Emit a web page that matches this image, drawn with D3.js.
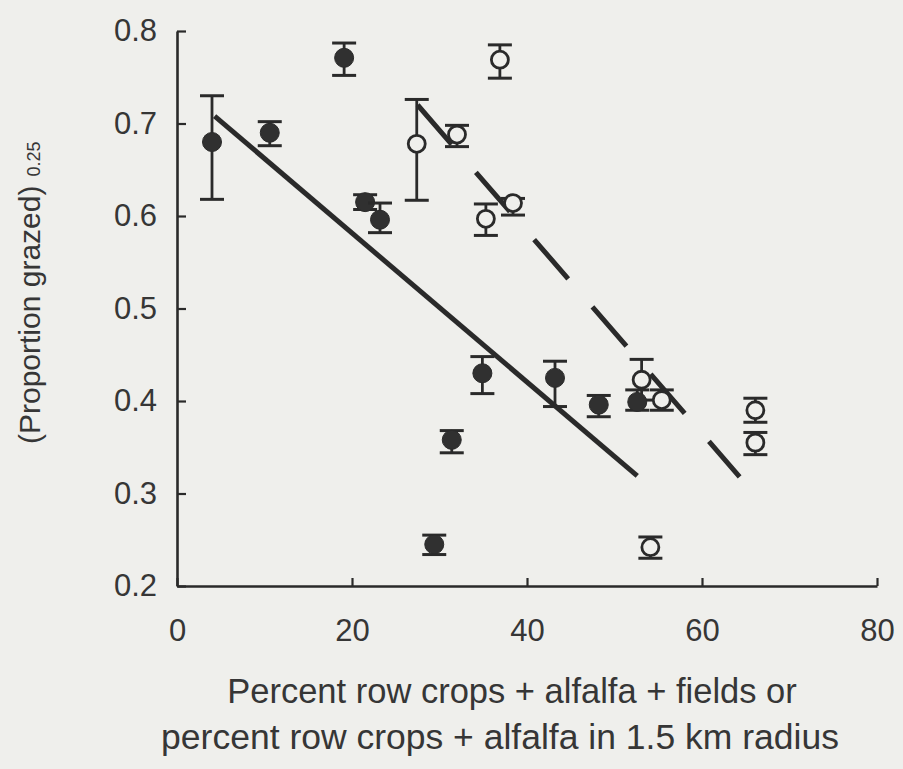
<!DOCTYPE html>
<html>
<head>
<meta charset="utf-8">
<script src="https://cdn.jsdelivr.net/npm/d3@7/dist/d3.min.js"></script>
<style>
  html, body { margin: 0; padding: 0; background: #efefec; }
  svg { display: block; }
</style>
</head>
<body>
<svg id="chart" width="903" height="769"></svg>
<script>
// Percent cover (x) vs. (proportion grazed)^0.25 (y), with error bars
const xTicks = [0, 20, 40, 60, 80];
const yTicks = [0.2, 0.3, 0.4, 0.5, 0.6, 0.7, 0.8];

// Filled circles: row crops + alfalfa + fields
const filledX  = [4.0, 10.6, 19.1, 21.5, 23.2, 29.4, 31.4, 34.9, 43.2, 48.2, 52.6];
const filledY  = [0.680, 0.690, 0.771, 0.615, 0.596, 0.245, 0.358, 0.430, 0.425, 0.396, 0.399];
const filledHi = [0.730, 0.702, 0.787, 0.623, 0.614, 0.255, 0.368, 0.448, 0.443, 0.406, 0.412];
const filledLo = [0.618, 0.676, 0.752, 0.607, 0.582, 0.234, 0.344, 0.408, 0.394, 0.383, 0.390];

// Open circles: row crops + alfalfa
const openX  = [27.4, 32.0, 36.9, 35.3, 38.4, 53.1, 55.4, 66.1, 66.1, 54.1];
const openY  = [0.678, 0.688, 0.769, 0.597, 0.614, 0.423, 0.401, 0.390, 0.355, 0.242];
const openHi = [0.726, 0.698, 0.785, 0.613, 0.619, 0.445, 0.412, 0.403, 0.366, 0.253];
const openLo = [0.617, 0.675, 0.749, 0.579, 0.601, 0.401, 0.390, 0.377, 0.342, 0.230];

// Fitted regression lines (end points)
const solidFitX  = [4.3, 52.6];
const solidFitY  = [0.708, 0.319];
const dashedFitX = [27.5, 64.3];
const dashedFitY = [0.720, 0.318];

const ink = "#2a2a2a";
const textInk = "#363636";
const bg = "#efefec";
const font = "'Liberation Sans', Arial, Helvetica, sans-serif";

const svg = d3.select("#chart");
svg.append("rect").attr("width", 903).attr("height", 769).attr("fill", bg);

const x = d3.scaleLinear().domain([0, 80]).range([177, 877]);
const y = d3.scaleLinear().domain([0.2, 0.8]).range([586, 31]);

// Axes with inward ticks
const xAxis = d3.axisBottom(x).tickValues(xTicks).tickSize(-8).tickSizeOuter(0)
  .tickPadding(33).tickFormat(d3.format("d"));
const yAxis = d3.axisLeft(y).tickValues(yTicks).tickSize(-9).tickSizeOuter(0)
  .tickPadding(20).tickFormat(d3.format(".1f"));

const gx = svg.append("g").attr("transform", `translate(0,${y(0.2)})`).call(xAxis);
const gy = svg.append("g").attr("transform", `translate(${x(0)},0)`).call(yAxis);

[gx, gy].forEach(g => {
  g.select(".domain").attr("stroke", ink).attr("stroke-width", 2.6);
  g.selectAll(".tick line").attr("stroke", ink).attr("stroke-width", 2.2);
  g.selectAll(".tick text").attr("fill", textInk)
    .style("font-family", font).style("font-size", "31px");
});

// Axis titles
const xTitle = svg.append("text")
  .attr("text-anchor", "middle").attr("fill", textInk)
  .style("font-family", font).style("font-size", "34.5px");
xTitle.append("tspan").attr("x", 512).attr("y", 703)
  .text("Percent row crops + alfalfa + fields or");
xTitle.append("tspan").attr("x", 500).attr("y", 749).style("font-size", "35.5px")
  .text("percent row crops + alfalfa in 1.5 km radius");

const yTitle = svg.append("text")
  .attr("transform", "translate(40,444) rotate(-90)")
  .attr("text-anchor", "start").attr("fill", textInk)
  .style("font-family", font).style("font-size", "30px");
yTitle.append("tspan").text("(Proportion grazed)");
yTitle.append("tspan").attr("dx", 9).style("font-size", "18px").text("0.25");

// Regression lines
const line = d3.line().x(d => x(d[0])).y(d => y(d[1]));
svg.append("path")
  .attr("d", line(d3.zip(solidFitX, solidFitY)))
  .attr("stroke", ink).attr("stroke-width", 5).attr("fill", "none");
svg.append("path")
  .attr("d", line(d3.zip(dashedFitX, dashedFitY)))
  .attr("stroke", ink).attr("stroke-width", 5).attr("fill", "none")
  .attr("stroke-dasharray", "52,37");

// Error bars + markers
function drawSeries(xs, ys, his, los, filled) {
  const data = xs.map((d, i) => ({ x: d, y: ys[i], hi: his[i], lo: los[i] }));
  const g = svg.append("g");
  const capW = 12;
  const eb = g.selectAll("g.eb").data(data).join("g").attr("class", "eb");
  eb.append("line")
    .attr("x1", d => x(d.x)).attr("x2", d => x(d.x))
    .attr("y1", d => y(d.hi)).attr("y2", d => y(d.lo))
    .attr("stroke", ink).attr("stroke-width", 2.8);
  eb.append("line")
    .attr("x1", d => x(d.x) - capW).attr("x2", d => x(d.x) + capW)
    .attr("y1", d => y(d.hi)).attr("y2", d => y(d.hi))
    .attr("stroke", ink).attr("stroke-width", 3);
  eb.append("line")
    .attr("x1", d => x(d.x) - capW).attr("x2", d => x(d.x) + capW)
    .attr("y1", d => y(d.lo)).attr("y2", d => y(d.lo))
    .attr("stroke", ink).attr("stroke-width", 3);
  eb.append("circle")
    .attr("cx", d => x(d.x)).attr("cy", d => y(d.y))
    .attr("r", filled ? 9.5 : 8.5)
    .attr("fill", filled ? "#303030" : bg)
    .attr("stroke", ink).attr("stroke-width", filled ? 1 : 2.8);
}
drawSeries(openX, openY, openHi, openLo, false);
drawSeries(filledX, filledY, filledHi, filledLo, true);
</script>
</body>
</html>
